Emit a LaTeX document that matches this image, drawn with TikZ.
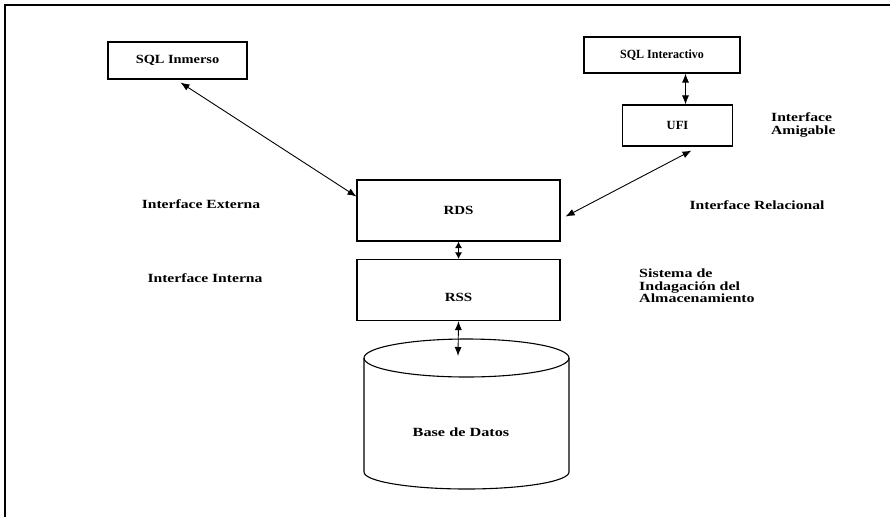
\documentclass[tikz,border=0pt]{standalone}
\usepackage{fontspec}
\setmainfont{Liberation Serif}
\usepackage{graphicx}
\usetikzlibrary{arrows.meta}
\newcommand{\hsc}[2]{\scalebox{#1}[1]{#2}}
\begin{document}
\begin{tikzpicture}[x=1pt,y=-1pt,
  box/.style={draw,line width=1.1pt,rectangle,inner sep=0pt,font=\bfseries\fontsize{12.5}{14}\selectfont},
  lbl/.style={inner sep=0pt,font=\bfseries\fontsize{12.5}{14}\selectfont},
  conn/.style={line width=0.9pt,{Latex[length=9pt,width=7pt]}-{Latex[length=9pt,width=7pt]}},
  shortconn/.style={line width=0.9pt,{Latex[length=6.5pt,width=7pt]}-{Latex[length=6.5pt,width=7pt]}}]
\useasboundingbox (0,0) rectangle (890,517);
% frame
\draw[line width=1.5pt] (5,517) -- (5,5) -- (890,5);
% boxes
\node[box,minimum width=139pt,minimum height=37pt] (inm) at (177.5,60.5) {\hsc{1.15}{SQL Inmerso}};
\node[box,minimum width=156pt,minimum height=36pt] (sqli) at (662,55) {\hsc{0.96}{SQL Interactivo}};
\node[box,minimum width=110pt,minimum height=41pt] (ufi) at (677.5,125.5) {UFI};
\node[box,minimum width=203pt,minimum height=61pt] (rds) at (458.5,210.5) {\hsc{1.2}{RDS}};
\node[box,minimum width=203pt,minimum height=61pt] (rss) at (458.5,290) {};
\node[lbl] (rsst) at (458.5,297) {\hsc{1.2}{RSS}};
% cylinder
\draw[line width=1.1pt] (364,358) arc[start angle=180,end angle=-180,x radius=102.5pt,y radius=19pt];
\draw[line width=1.1pt] (364,358) -- (364,472) arc[start angle=180,end angle=360,x radius=102.5pt,y radius=17pt] -- (569,358);
\node[lbl] (db) at (461,432) {\hsc{1.3}{Base de Datos}};
\coordinate (dbin) at (458,356);
% labels
\node[lbl] (iext) at (201,204) {\hsc{1.25}{Interface Externa}};
\node[lbl] (iint) at (205,278) {\hsc{1.25}{Interface Interna}};
\node[lbl] (irel) at (757,205) {\hsc{1.25}{Interface Relacional}};
\node[lbl,anchor=west,align=left] (iami) at (771,124.5) {\hsc{1.25}{Interface}\\[-1pt]\hsc{1.25}{Amigable}};
\node[lbl,anchor=west,align=left] (sia) at (639,286) {\hsc{1.28}{Sistema de}\\[-1.5pt]\hsc{1.28}{Indagación del}\\[-1.5pt]\hsc{1.28}{Almacenamiento}};
% connectors
\draw[conn] ([xshift=3pt,yshift=-3pt]inm.south) -- ([yshift=14pt]rds.west);
\draw[conn] ([xshift=14pt,yshift=-4pt]ufi.south) -- ([xshift=5pt,yshift=-6pt]rds.east);
\draw[conn] ([xshift=8pt]ufi.north) -- ([xshift=8pt]ufi.north |- sqli.south);
\draw[shortconn] (rds.south) -- (rss.north);
\draw[conn] (rss.south) -- (dbin);
\end{tikzpicture}
\end{document}
